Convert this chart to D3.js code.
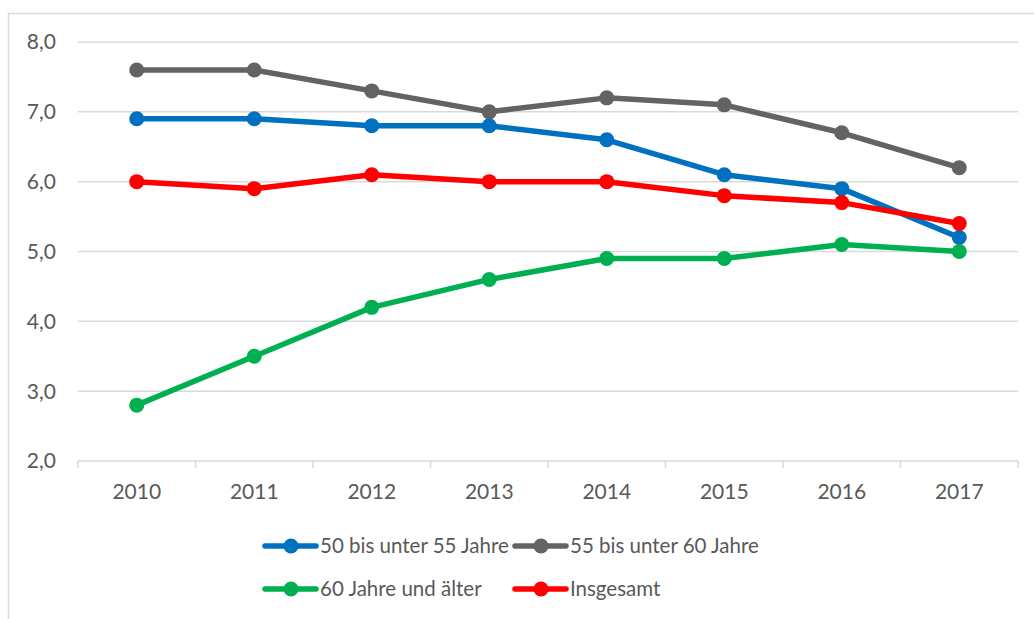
<!DOCTYPE html>
<html>
<head>
<meta charset="utf-8">
<script src="https://cdn.jsdelivr.net/npm/d3@7"></script>
<style>
  body { margin: 0; background: #fff; }
  svg { display: block; font-family: Lato, "Open Sans", sans-serif; }
</style>
</head>
<body>
<div id="chart"></div>
<script>
// Daten
var years = ["2010", "2011", "2012", "2013", "2014", "2015", "2016", "2017"];
var seriesNames = ["50 bis unter 55 Jahre", "55 bis unter 60 Jahre", "60 Jahre und älter", "Insgesamt"];
var seriesColors = ["#0070C0", "#636363", "#00B050", "#FF0000"];
var s50bis55 = [6.9, 6.9, 6.8, 6.8, 6.6, 6.1, 5.9, 5.2];
var s55bis60 = [7.6, 7.6, 7.3, 7.0, 7.2, 7.1, 6.7, 6.2];
var s60plus  = [2.8, 3.5, 4.2, 4.6, 4.9, 4.9, 5.1, 5.0];
var insgesamt = [6.0, 5.9, 6.1, 6.0, 6.0, 5.8, 5.7, 5.4];
var yTicks = [2, 3, 4, 5, 6, 7, 8];

var allSeries = [s50bis55, s55bis60, s60plus, insgesamt];

var width = 1034, height = 619;
var plot = {left: 78, right: 1018, top: 42, bottom: 461};

var svg = d3.select("#chart").append("svg")
  .attr("width", width)
  .attr("height", height);

// Rahmen (rechts/unten abgeschnitten)
svg.append("rect")
  .attr("x", 8.5).attr("y", 13.5)
  .attr("width", 1040).attr("height", 640)
  .style("fill", "none")
  .style("stroke", "#d9d9d9")
  .style("stroke-width", 1.5);

var x = d3.scaleBand()
  .domain(years)
  .range([plot.left, plot.right]);

var y = d3.scaleLinear()
  .domain([2, 8])
  .range([plot.bottom, plot.top]);

// Gitterlinien
svg.append("g")
  .selectAll("line")
  .data(yTicks.slice(1))
  .enter().append("line")
  .attr("x1", plot.left).attr("x2", plot.right)
  .attr("y1", function(d) { return y(d); })
  .attr("y2", function(d) { return y(d); })
  .style("stroke", "#d9d9d9")
  .style("stroke-width", 1.5);

// Y-Achse Beschriftung
svg.append("g")
  .selectAll("text")
  .data(yTicks)
  .enter().append("text")
  .attr("x", 56)
  .attr("y", function(d) { return y(d); })
  .attr("dy", "0.35em")
  .style("text-anchor", "end")
  .style("font-size", "21px")
  .style("fill", "#595959")
  .text(function(d) { return d3.format(".1f")(d).replace(".", ","); });

// X-Achse
var xAxis = svg.append("g")
  .attr("transform", "translate(0," + plot.bottom + ")");
xAxis.append("line")
  .attr("x1", plot.left).attr("x2", plot.right)
  .style("stroke", "#d9d9d9").style("stroke-width", 1.5);
xAxis.selectAll(".tick")
  .data(years.concat(["end"]))
  .enter().append("line")
  .attr("x1", function(d, i) { return plot.left + i * x.step(); })
  .attr("x2", function(d, i) { return plot.left + i * x.step(); })
  .attr("y1", 0).attr("y2", 7)
  .style("stroke", "#d9d9d9").style("stroke-width", 1.5);
xAxis.selectAll("text")
  .data(years)
  .enter().append("text")
  .attr("x", function(d) { return x(d) + x.bandwidth() / 2; })
  .attr("y", 31)
  .attr("dy", "0.35em")
  .style("text-anchor", "middle")
  .style("font-size", "21px")
  .style("fill", "#595959")
  .text(function(d) { return d; });

// Linien
var line = d3.line()
  .x(function(d, i) { return x(years[i]) + x.bandwidth() / 2; })
  .y(function(d) { return y(d); });

allSeries.forEach(function(s, k) {
  var g = svg.append("g");
  g.append("path")
    .datum(s)
    .attr("d", line)
    .style("fill", "none")
    .style("stroke", seriesColors[k])
    .style("stroke-width", 5.5)
    .style("stroke-linejoin", "round");
  g.selectAll("circle")
    .data(s)
    .enter().append("circle")
    .attr("cx", function(d, i) { return x(years[i]) + x.bandwidth() / 2; })
    .attr("cy", function(d) { return y(d); })
    .attr("r", 7.5)
    .style("fill", seriesColors[k]);
});

// Legende
var legendPos = [[265, 546], [515, 546], [265, 589], [515, 589]];
var legend = svg.append("g")
  .selectAll("g")
  .data(seriesNames)
  .enter().append("g")
  .attr("transform", function(d, i) { return "translate(" + legendPos[i][0] + "," + legendPos[i][1] + ")"; });
legend.append("line")
  .attr("x1", 0).attr("x2", 51)
  .style("stroke", function(d, i) { return seriesColors[i]; })
  .style("stroke-width", 5.5)
  .style("stroke-linecap", "round");
legend.append("circle")
  .attr("cx", 26).attr("r", 7.5)
  .style("fill", function(d, i) { return seriesColors[i]; });
legend.append("text")
  .attr("x", 55)
  .attr("dy", "0.35em")
  .style("font-size", "20.5px")
  .style("fill", "#595959")
  .text(function(d) { return d; });
</script>
</body>
</html>
